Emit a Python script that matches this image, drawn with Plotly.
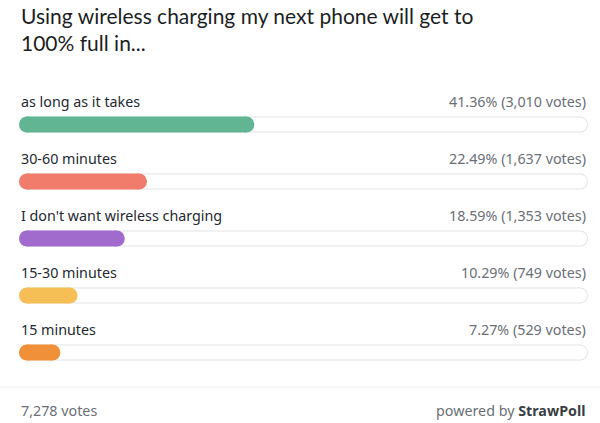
import plotly.graph_objects as go

title = "Using wireless charging my next phone will get to<br>100% full in..."
options = ["as long as it takes", "30-60 minutes", "I don't want wireless charging",
           "15-30 minutes", "15 minutes"]
percents = [41.36, 22.49, 18.59, 10.29, 7.27]
votes = [3010, 1637, 1353, 749, 529]
colors = ["#62b592", "#f17c6b", "#a16bcd", "#f6bf56", "#f0913a"]
total_votes = 7278

FONT = "Noto Sans"
TITLE_FONT = "Lato"
ypos = list(range(len(options)))

PLOT_W = 569.0          # width of plot area in px
BAR_PX = 16.0           # bar thickness in px


def px_to_x(px):
    return px / PLOT_W * 100.0


def add_pill(fig, start, end, row, thickness_px, color):
    """Pill-shaped bar drawn as a thick line with round end markers."""
    r = px_to_x(thickness_px / 2.0)
    a, b = start + r, max(end - r, start + r)
    fig.add_trace(go.Scatter(
        x=[a, b], y=[row, row], mode="lines+markers",
        line=dict(color=color, width=thickness_px),
        marker=dict(size=thickness_px, color=color, line=dict(width=0), symbol="circle"),
        hoverinfo="skip", showlegend=False, cliponaxis=False,
    ))


fig = go.Figure()
inset = px_to_x(1)
for i in ypos:
    # track: light-gray outline pill with white interior
    add_pill(fig, 0, 100, i, BAR_PX, "#e3e5e8")
    add_pill(fig, inset, 100 - inset, i, BAR_PX - 2, "#ffffff")
    # value bar
    add_pill(fig, 0, percents[i], i, BAR_PX, colors[i])

annotations = []
for i, (opt, p, v) in enumerate(zip(options, percents, votes)):
    annotations.append(dict(x=0, y=i - 0.41, xref="paper", yref="y", text=opt,
                            xanchor="left", yanchor="middle", showarrow=False,
                            font=dict(family=FONT, size=14.3, color="#24292f")))
    annotations.append(dict(x=1, y=i - 0.41, xref="paper", yref="y",
                            text=f"{p:.2f}% ({v:,} votes)",
                            xanchor="right", yanchor="middle", showarrow=False,
                            font=dict(family=FONT, size=14.3, color="#6b6f76")))

annotations.append(dict(x=0, y=1.334, xref="paper", yref="paper", text=title,
                        xanchor="left", yanchor="top", align="left", showarrow=False,
                        font=dict(family=TITLE_FONT, size=21, color="#1b1f24")))
annotations.append(dict(x=0, y=-0.105, xref="paper", yref="paper",
                        text=f"{total_votes:,} votes",
                        xanchor="left", yanchor="middle", showarrow=False,
                        font=dict(family=FONT, size=14.3, color="#6b6f76")))
annotations.append(dict(x=1, y=-0.105, xref="paper", yref="paper",
                        text="powered by <b style='color:#3a3f45'>StrawPoll</b>",
                        xanchor="right", yanchor="middle", showarrow=False,
                        font=dict(family=FONT, size=14.3, color="#6b6f76")))

fig.update_layout(
    width=600, height=423,
    margin=dict(l=19, r=12, t=96, b=42),
    paper_bgcolor="#ffffff", plot_bgcolor="#ffffff",
    xaxis=dict(range=[0, 100], visible=False, fixedrange=True),
    yaxis=dict(range=[4.5, -0.5], visible=False, fixedrange=True),
    annotations=annotations,
    shapes=[dict(type="line", xref="paper", yref="paper",
                 x0=-19 / 569, x1=1 + 12 / 569, y0=-0.021, y1=-0.021,
                 line=dict(color="#eceef0", width=1))],
    showlegend=False,
)

fig.write_html("out.html", config={"displayModeBar": False, "staticPlot": True})
